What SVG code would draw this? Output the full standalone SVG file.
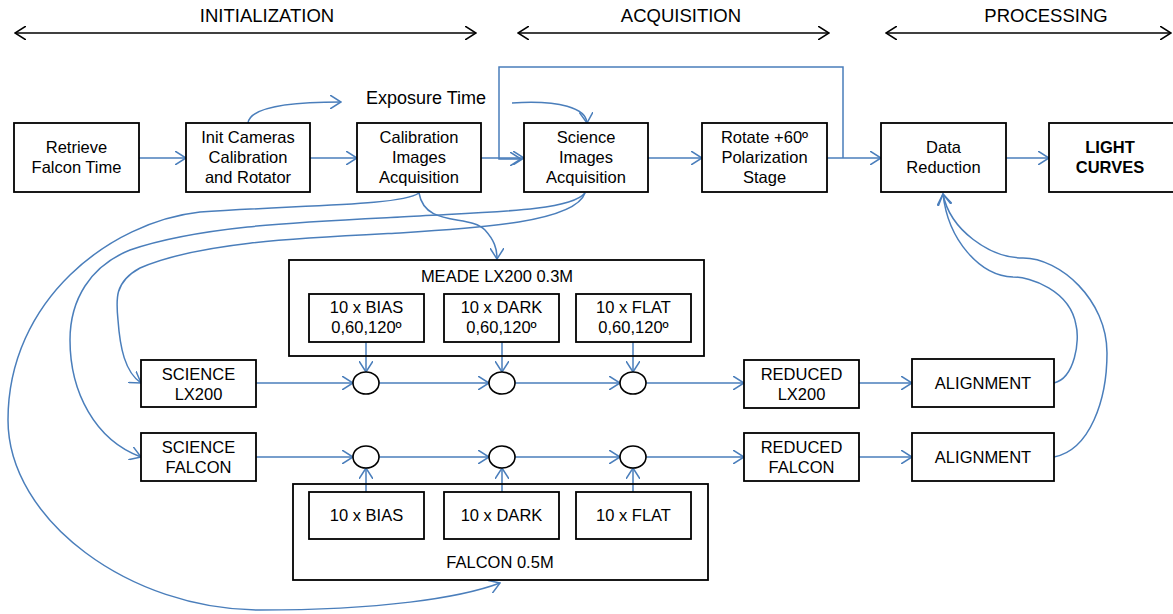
<svg xmlns="http://www.w3.org/2000/svg" width="1173" height="614" viewBox="0 0 1173 614">
<style>
.box{fill:#fff;stroke:#000;stroke-width:1.8}
.grp{fill:none;stroke:#000;stroke-width:1.8}
.t{font-family:"Liberation Sans",Arial,sans-serif;font-size:16.5px;fill:#000;text-anchor:middle}
.b{font-weight:bold}
.h{font-family:"Liberation Sans",Arial,sans-serif;font-size:18.5px;fill:#000;text-anchor:middle}
.c{fill:none;stroke:#4A7EBB;stroke-width:1.5}
.ca{fill:none;stroke:#4A7EBB;stroke-width:1.5;marker-end:url(#ah)}
.hd{fill:none;stroke:#000;stroke-width:1.6;marker-start:url(#hk);marker-end:url(#hk)}
.circ{fill:#fff;stroke:#000;stroke-width:1.6}
</style>
<defs>
<marker id="ah" viewBox="0 0 12 14" refX="11" refY="7" markerWidth="12" markerHeight="14" markerUnits="userSpaceOnUse" orient="auto">
<path d="M0,0 L11,7 L0,14" fill="none" stroke="#4A7EBB" stroke-width="1.5"/>
</marker>
<marker id="hk" viewBox="0 0 12 14" refX="11" refY="7" markerWidth="12" markerHeight="14" markerUnits="userSpaceOnUse" orient="auto-start-reverse">
<path d="M0,0 L11,7 L0,14" fill="none" stroke="#000" stroke-width="1.5"/>
</marker>
</defs>

<g id="headers">
<text class="h" x="267" y="22">INITIALIZATION</text>
<line class="hd" x1="15" y1="33" x2="476" y2="33"/>
<text class="h" x="681" y="22">ACQUISITION</text>
<line class="hd" x1="518" y1="33" x2="829" y2="33"/>
<text class="h" x="1046" y="22">PROCESSING</text>
<line class="hd" x1="886" y1="33" x2="1171" y2="33"/>
</g>

<g id="connectors">
<line class="ca" x1="139" y1="158" x2="186" y2="158"/>
<line class="ca" x1="310" y1="158" x2="357" y2="158"/>
<line class="ca" x1="481" y1="158" x2="524" y2="158"/>
<polyline class="ca" points="843,158 843,67 499,67 499,159 521,159"/>
<line class="ca" x1="648" y1="158" x2="702" y2="158"/>
<line class="ca" x1="827" y1="158" x2="881" y2="158"/>
<line class="ca" x1="1006" y1="158" x2="1049" y2="158"/>
<path class="ca" d="M248,123 C250,108 285,102 341,102"/>
<path class="ca" d="M512,103 C560,100 586,108 587,123"/>
<path class="ca" d="M419,193 C425,228 470,214 485,230 C494,240 497,248 497,259"/>
<path class="ca" d="M419,193 C400,206 300,205 200,212 C110,222 8,300 8,420 C8,520 130,610 260,610 C380,610 460,598 500,583"/>
<path class="ca" d="M585,193 C570,212 480,212 400,217 C300,222 200,226 130,250 C90,266 70,300 70,340 C70,392 95,440 141,457"/>
<path class="ca" d="M585,193 C575,222 480,228 400,233 C300,238 200,242 140,268 C114,282 116,300 118,320 C120,348 125,372 141,383"/>
<path class="ca" d="M1054,383 C1075,378 1080,340 1076,325 C1070,290 1030,277 1013,277 C980,276 948,240 943,194"/>
<path class="ca" d="M1054,457 C1090,450 1107,400 1107,353 C1107,300 1060,258 1023,258 C990,258 950,230 943,194"/>
<line class="ca" x1="256" y1="383" x2="353" y2="383"/>
<line class="ca" x1="379" y1="383" x2="489" y2="383"/>
<line class="ca" x1="515" y1="383" x2="620" y2="383"/>
<line class="ca" x1="646" y1="383" x2="744" y2="383"/>
<line class="ca" x1="859" y1="383" x2="912" y2="383"/>
<line class="ca" x1="256" y1="457" x2="353" y2="457"/>
<line class="ca" x1="379" y1="457" x2="489" y2="457"/>
<line class="ca" x1="515" y1="457" x2="620" y2="457"/>
<line class="ca" x1="646" y1="457" x2="744" y2="457"/>
<line class="ca" x1="859" y1="457" x2="912" y2="457"/>
<line class="ca" x1="366" y1="342" x2="366" y2="372"/>
<line class="ca" x1="502" y1="342" x2="502" y2="372"/>
<line class="ca" x1="633" y1="342" x2="633" y2="372"/>
<line class="ca" x1="366" y1="492" x2="366" y2="468"/>
<line class="ca" x1="502" y1="492" x2="502" y2="468"/>
<line class="ca" x1="633" y1="492" x2="633" y2="468"/>
</g>

<g id="retrieve"><rect class="box" x="14" y="123" width="125" height="69"/>
<text class="t" x="76.5" y="153">Retrieve</text><text class="t" x="76.5" y="173">Falcon Time</text></g>
<g id="init"><rect class="box" x="186" y="123" width="124" height="69"/>
<text class="t" x="248" y="143">Init Cameras</text><text class="t" x="248" y="163">Calibration</text><text class="t" x="248" y="183">and Rotator</text></g>
<g id="calib"><rect class="box" x="357" y="123" width="124" height="69"/>
<text class="t" x="419" y="143">Calibration</text><text class="t" x="419" y="163">Images</text><text class="t" x="419" y="183">Acquisition</text></g>
<g id="science"><rect class="box" x="524" y="123" width="124" height="69"/>
<text class="t" x="586" y="143">Science</text><text class="t" x="586" y="163">Images</text><text class="t" x="586" y="183">Acquisition</text></g>
<g id="rotate"><rect class="box" x="702" y="123" width="125" height="69"/>
<text class="t" x="764.5" y="143">Rotate +60º</text><text class="t" x="764.5" y="163">Polarization</text><text class="t" x="764.5" y="183">Stage</text></g>
<g id="datared"><rect class="box" x="881" y="123" width="125" height="69"/>
<text class="t" x="943.5" y="153">Data</text><text class="t" x="943.5" y="173">Reduction</text></g>
<g id="light"><rect class="box" x="1049" y="123" width="125" height="69"/>
<text class="t b" x="1110" y="153">LIGHT</text><text class="t b" x="1110" y="173">CURVES</text></g>
<g id="exposure"><text class="h" x="426" y="104" style="font-size:18px">Exposure Time</text></g>

<g id="meade"><rect class="grp" x="289" y="260" width="415" height="96"/>
<text class="t" x="497" y="282">MEADE LX200 0.3M</text></g>
<g id="mbias"><rect class="box" x="309" y="294" width="115" height="48"/>
<text class="t" x="366.5" y="313">10 x BIAS</text><text class="t" x="366.5" y="333">0,60,120º</text></g>
<g id="mdark"><rect class="box" x="444" y="294" width="115" height="48"/>
<text class="t" x="501.5" y="313">10 x DARK</text><text class="t" x="501.5" y="333">0,60,120º</text></g>
<g id="mflat"><rect class="box" x="576" y="294" width="115" height="48"/>
<text class="t" x="633.5" y="313">10 x FLAT</text><text class="t" x="633.5" y="333">0,60,120º</text></g>

<g id="scilx"><rect class="box" x="141" y="360" width="115" height="47"/>
<text class="t" x="198.5" y="380">SCIENCE</text><text class="t" x="198.5" y="400">LX200</text></g>
<g id="scifal"><rect class="box" x="141" y="433" width="115" height="48"/>
<text class="t" x="198.5" y="453">SCIENCE</text><text class="t" x="198.5" y="473">FALCON</text></g>

<g id="c1"><ellipse class="circ" cx="366" cy="383" rx="13" ry="11"/></g>
<g id="c2"><ellipse class="circ" cx="502" cy="383" rx="13" ry="11"/></g>
<g id="c3"><ellipse class="circ" cx="633" cy="383" rx="13" ry="11"/></g>
<g id="c4"><ellipse class="circ" cx="366" cy="457" rx="13" ry="11"/></g>
<g id="c5"><ellipse class="circ" cx="502" cy="457" rx="13" ry="11"/></g>
<g id="c6"><ellipse class="circ" cx="633" cy="457" rx="13" ry="11"/></g>

<g id="redlx"><rect class="box" x="744" y="360" width="115" height="48"/>
<text class="t" x="801.5" y="380">REDUCED</text><text class="t" x="801.5" y="400">LX200</text></g>
<g id="redfal"><rect class="box" x="744" y="433" width="115" height="48"/>
<text class="t" x="801.5" y="453">REDUCED</text><text class="t" x="801.5" y="473">FALCON</text></g>
<g id="align1"><rect class="box" x="912" y="359" width="142" height="48"/>
<text class="t" x="983" y="389">ALIGNMENT</text></g>
<g id="align2"><rect class="box" x="912" y="433" width="142" height="48"/>
<text class="t" x="983" y="463">ALIGNMENT</text></g>

<g id="falcon"><rect class="grp" x="293" y="484" width="415" height="96"/>
<text class="t" x="500" y="568">FALCON 0.5M</text></g>
<g id="fbias"><rect class="box" x="309" y="492" width="115" height="47"/>
<text class="t" x="366.5" y="521">10 x BIAS</text></g>
<g id="fdark"><rect class="box" x="444" y="492" width="115" height="47"/>
<text class="t" x="501.5" y="521">10 x DARK</text></g>
<g id="fflat"><rect class="box" x="576" y="492" width="115" height="47"/>
<text class="t" x="633.5" y="521">10 x FLAT</text></g>
</svg>
